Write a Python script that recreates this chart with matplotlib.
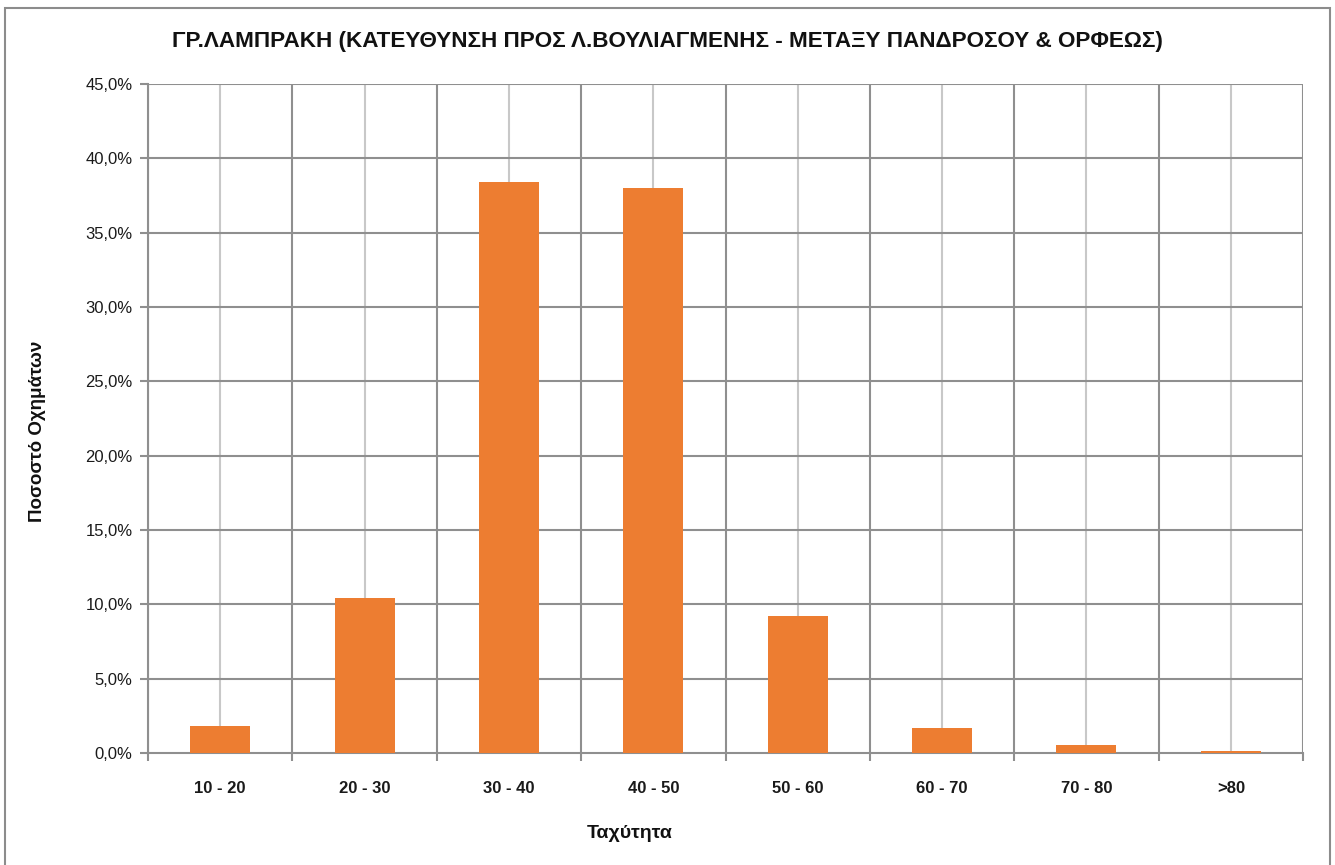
import matplotlib
matplotlib.use('Agg')
from matplotlib import pyplot as plt
from matplotlib.patches import Rectangle
from matplotlib.ticker import FuncFormatter, MultipleLocator
import numpy as np

categories = ['10 - 20', '20 - 30', '30 - 40', '40 - 50', '50 - 60', '60 - 70', '70 - 80', '>80']
percentages = [1.8, 10.4, 38.4, 38.0, 9.2, 1.7, 0.55, 0.15]

title = 'ΓΡ.ΛΑΜΠΡΑΚΗ (ΚΑΤΕΥΘΥΝΣΗ ΠΡΟΣ Λ.ΒΟΥΛΙΑΓΜΕΝΗΣ - ΜΕΤΑΞΥ ΠΑΝΔΡΟΣΟΥ & ΟΡΦΕΩΣ)'
x_label = 'Ταχύτητα'
y_label = 'Ποσοστό Οχημάτων'

plt.rcParams['font.family'] = ['Liberation Sans', 'DejaVu Sans']

fig = plt.figure(figsize=(13.35, 8.65), dpi=100)
ax = fig.add_axes([148 / 1335, 1 - 753 / 865, (1303 - 148) / 1335, (753 - 84) / 865])

# outer chart border
fig.patches.append(Rectangle((5 / 1335, -0.01), 1325 / 1335, 1 - 8 / 865 + 0.01,
                             transform=fig.transFigure, fill=False,
                             edgecolor='#8c8c8c', linewidth=1.5))

x = np.arange(len(categories))
ax.bar(x, percentages, width=0.415, color='#ed7d31', zorder=3)

ax.set_xlim(-0.5, len(categories) - 0.5)
ax.set_ylim(0, 45)
ax.yaxis.set_major_locator(MultipleLocator(5))
ax.yaxis.set_major_formatter(FuncFormatter(lambda v, p: f'{v:.1f}%'.replace('.', ',')))

# gridlines: dark at category edges and y ticks, light at category centres
for b in np.arange(-0.5, len(categories), 1.0):
    ax.axvline(b, color='#8f8f8f', linewidth=1.5, zorder=1)
for c in x:
    ax.axvline(c, color='#c8c8c8', linewidth=1.5, zorder=1)
for v in np.arange(5, 46, 5):
    ax.axhline(v, color='#8f8f8f', linewidth=1.5, zorder=1)

for s in ax.spines.values():
    s.set_visible(False)
for side in ['left', 'bottom']:
    ax.spines[side].set_visible(True)
    ax.spines[side].set_color('#8f8f8f')
    ax.spines[side].set_linewidth(1.5)

ax.set_xticks(x)
ax.set_xticklabels(categories, fontsize=12, fontweight='bold', color='#1a1a1a')
ax.set_xticks(np.arange(-0.5, len(categories), 1.0), minor=True)
ax.tick_params(axis='x', which='major', length=0, pad=20)
ax.tick_params(axis='x', which='minor', length=6, width=1.5, color='#8f8f8f')
ax.tick_params(axis='y', length=6, width=1.5, color='#8f8f8f', labelsize=12,
               labelcolor='#1a1a1a', pad=5)

fig.text(667 / 1335, 1 - 42 / 865, title, ha='center', va='center',
         fontsize=16.2, fontweight='bold', color='#111111')
fig.text(630 / 1335, 1 - 833 / 865, x_label, ha='center', va='center',
         fontsize=14, fontweight='bold', color='#111111')
fig.text(38 / 1335, 1 - 431 / 865, y_label, ha='center', va='center',
         rotation=90, fontsize=13.5, fontweight='bold', color='#111111')

plt.savefig('out.png', dpi=100)
